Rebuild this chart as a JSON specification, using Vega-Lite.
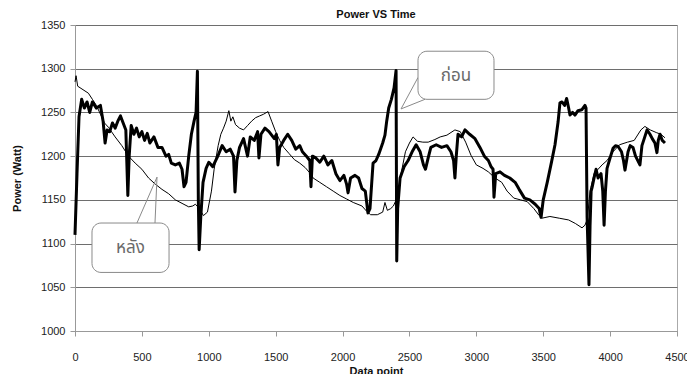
{
  "$schema": "https://vega.github.io/schema/vega-lite/v6.json",
  "width": 602,
  "height": 306,
  "autosize": {"type": "none"},
  "padding": {"left": 75, "top": 25, "right": 10, "bottom": 43},
  "background": "white",
  "title": {"text": "Power VS Time", "fontSize": 11, "fontWeight": "bold", "font": "Liberation Sans", "color": "#111", "offset": 6, "dy": 7, "anchor": "middle"},
  "config": {
    "view": {"stroke": "#aaa", "strokeWidth": 1},
    "axis": {"labelFont": "Liberation Sans", "titleFont": "Liberation Sans", "labelFontSize": 11, "titleFontSize": 11, "titleFontWeight": "bold", "labelColor": "#222", "titleColor": "#111", "domainColor": "#999", "tickColor": "#999", "tickSize": 5}
  },
  "datasets": {
    "series": [
      {"point": 0, "power": 1110, "series": "before"},
      {"point": 15, "power": 1180, "series": "before"},
      {"point": 30, "power": 1245, "series": "before"},
      {"point": 50, "power": 1265, "series": "before"},
      {"point": 70, "power": 1255, "series": "before"},
      {"point": 90, "power": 1262, "series": "before"},
      {"point": 110, "power": 1250, "series": "before"},
      {"point": 130, "power": 1262, "series": "before"},
      {"point": 160, "power": 1255, "series": "before"},
      {"point": 190, "power": 1258, "series": "before"},
      {"point": 210, "power": 1240, "series": "before"},
      {"point": 225, "power": 1215, "series": "before"},
      {"point": 240, "power": 1230, "series": "before"},
      {"point": 260, "power": 1228, "series": "before"},
      {"point": 280, "power": 1238, "series": "before"},
      {"point": 300, "power": 1232, "series": "before"},
      {"point": 320, "power": 1240, "series": "before"},
      {"point": 340, "power": 1246, "series": "before"},
      {"point": 360, "power": 1238, "series": "before"},
      {"point": 380, "power": 1230, "series": "before"},
      {"point": 395, "power": 1155, "series": "before"},
      {"point": 405, "power": 1200, "series": "before"},
      {"point": 420, "power": 1235, "series": "before"},
      {"point": 440, "power": 1225, "series": "before"},
      {"point": 460, "power": 1232, "series": "before"},
      {"point": 480, "power": 1222, "series": "before"},
      {"point": 500, "power": 1228, "series": "before"},
      {"point": 520, "power": 1218, "series": "before"},
      {"point": 540, "power": 1226, "series": "before"},
      {"point": 560, "power": 1215, "series": "before"},
      {"point": 590, "power": 1222, "series": "before"},
      {"point": 620, "power": 1210, "series": "before"},
      {"point": 650, "power": 1210, "series": "before"},
      {"point": 680, "power": 1200, "series": "before"},
      {"point": 700, "power": 1202, "series": "before"},
      {"point": 720, "power": 1192, "series": "before"},
      {"point": 750, "power": 1190, "series": "before"},
      {"point": 780, "power": 1192, "series": "before"},
      {"point": 800, "power": 1185, "series": "before"},
      {"point": 815, "power": 1165, "series": "before"},
      {"point": 830, "power": 1170, "series": "before"},
      {"point": 850, "power": 1200, "series": "before"},
      {"point": 870, "power": 1225, "series": "before"},
      {"point": 890, "power": 1240, "series": "before"},
      {"point": 905, "power": 1250, "series": "before"},
      {"point": 915, "power": 1297, "series": "before"},
      {"point": 922, "power": 1150, "series": "before"},
      {"point": 928, "power": 1093, "series": "before"},
      {"point": 940, "power": 1130, "series": "before"},
      {"point": 957, "power": 1170, "series": "before"},
      {"point": 980, "power": 1186, "series": "before"},
      {"point": 1000, "power": 1193, "series": "before"},
      {"point": 1030, "power": 1188, "series": "before"},
      {"point": 1070, "power": 1201, "series": "before"},
      {"point": 1100, "power": 1212, "series": "before"},
      {"point": 1130, "power": 1205, "series": "before"},
      {"point": 1160, "power": 1208, "series": "before"},
      {"point": 1185, "power": 1200, "series": "before"},
      {"point": 1196, "power": 1159, "series": "before"},
      {"point": 1210, "power": 1195, "series": "before"},
      {"point": 1230, "power": 1210, "series": "before"},
      {"point": 1260, "power": 1220, "series": "before"},
      {"point": 1290, "power": 1200, "series": "before"},
      {"point": 1310, "power": 1222, "series": "before"},
      {"point": 1340, "power": 1218, "series": "before"},
      {"point": 1365, "power": 1228, "series": "before"},
      {"point": 1375, "power": 1198, "series": "before"},
      {"point": 1390, "power": 1225, "series": "before"},
      {"point": 1420, "power": 1232, "series": "before"},
      {"point": 1450, "power": 1228, "series": "before"},
      {"point": 1470, "power": 1224, "series": "before"},
      {"point": 1490, "power": 1220, "series": "before"},
      {"point": 1505, "power": 1225, "series": "before"},
      {"point": 1517, "power": 1190, "series": "before"},
      {"point": 1530, "power": 1210, "series": "before"},
      {"point": 1560, "power": 1218, "series": "before"},
      {"point": 1590, "power": 1225, "series": "before"},
      {"point": 1620, "power": 1218, "series": "before"},
      {"point": 1650, "power": 1208, "series": "before"},
      {"point": 1680, "power": 1212, "series": "before"},
      {"point": 1700, "power": 1205, "series": "before"},
      {"point": 1730, "power": 1200, "series": "before"},
      {"point": 1755, "power": 1195, "series": "before"},
      {"point": 1764, "power": 1165, "series": "before"},
      {"point": 1775, "power": 1200, "series": "before"},
      {"point": 1800, "power": 1198, "series": "before"},
      {"point": 1830, "power": 1193, "series": "before"},
      {"point": 1860, "power": 1200, "series": "before"},
      {"point": 1890, "power": 1190, "series": "before"},
      {"point": 1920, "power": 1195, "series": "before"},
      {"point": 1950, "power": 1180, "series": "before"},
      {"point": 1980, "power": 1172, "series": "before"},
      {"point": 2010, "power": 1178, "series": "before"},
      {"point": 2030, "power": 1168, "series": "before"},
      {"point": 2041, "power": 1158, "series": "before"},
      {"point": 2060, "power": 1175, "series": "before"},
      {"point": 2093, "power": 1178, "series": "before"},
      {"point": 2120, "power": 1175, "series": "before"},
      {"point": 2145, "power": 1163, "series": "before"},
      {"point": 2170, "power": 1160, "series": "before"},
      {"point": 2190, "power": 1135, "series": "before"},
      {"point": 2205, "power": 1140, "series": "before"},
      {"point": 2228, "power": 1192, "series": "before"},
      {"point": 2250, "power": 1195, "series": "before"},
      {"point": 2270, "power": 1202, "series": "before"},
      {"point": 2300, "power": 1215, "series": "before"},
      {"point": 2317, "power": 1224, "series": "before"},
      {"point": 2330, "power": 1240, "series": "before"},
      {"point": 2345, "power": 1255, "series": "before"},
      {"point": 2365, "power": 1265, "series": "before"},
      {"point": 2385, "power": 1278, "series": "before"},
      {"point": 2400, "power": 1298, "series": "before"},
      {"point": 2405, "power": 1080, "series": "before"},
      {"point": 2412, "power": 1140, "series": "before"},
      {"point": 2430, "power": 1175, "series": "before"},
      {"point": 2460, "power": 1188, "series": "before"},
      {"point": 2490, "power": 1195, "series": "before"},
      {"point": 2520, "power": 1205, "series": "before"},
      {"point": 2550, "power": 1213, "series": "before"},
      {"point": 2580, "power": 1205, "series": "before"},
      {"point": 2605, "power": 1190, "series": "before"},
      {"point": 2620, "power": 1185, "series": "before"},
      {"point": 2640, "power": 1198, "series": "before"},
      {"point": 2660, "power": 1210, "series": "before"},
      {"point": 2700, "power": 1213, "series": "before"},
      {"point": 2740, "power": 1210, "series": "before"},
      {"point": 2780, "power": 1212, "series": "before"},
      {"point": 2810, "power": 1205, "series": "before"},
      {"point": 2830, "power": 1195, "series": "before"},
      {"point": 2840, "power": 1175, "series": "before"},
      {"point": 2850, "power": 1200, "series": "before"},
      {"point": 2863, "power": 1225, "series": "before"},
      {"point": 2890, "power": 1222, "series": "before"},
      {"point": 2915, "power": 1230, "series": "before"},
      {"point": 2950, "power": 1225, "series": "before"},
      {"point": 2990, "power": 1220, "series": "before"},
      {"point": 3027, "power": 1210, "series": "before"},
      {"point": 3060, "power": 1200, "series": "before"},
      {"point": 3090, "power": 1195, "series": "before"},
      {"point": 3110, "power": 1188, "series": "before"},
      {"point": 3125, "power": 1185, "series": "before"},
      {"point": 3132, "power": 1153, "series": "before"},
      {"point": 3145, "power": 1180, "series": "before"},
      {"point": 3177, "power": 1182, "series": "before"},
      {"point": 3210, "power": 1178, "series": "before"},
      {"point": 3250, "power": 1175, "series": "before"},
      {"point": 3290, "power": 1170, "series": "before"},
      {"point": 3320, "power": 1162, "series": "before"},
      {"point": 3360, "power": 1152, "series": "before"},
      {"point": 3400, "power": 1150, "series": "before"},
      {"point": 3440, "power": 1145, "series": "before"},
      {"point": 3470, "power": 1140, "series": "before"},
      {"point": 3484, "power": 1130, "series": "before"},
      {"point": 3500, "power": 1150, "series": "before"},
      {"point": 3530, "power": 1170, "series": "before"},
      {"point": 3563, "power": 1194, "series": "before"},
      {"point": 3588, "power": 1213, "series": "before"},
      {"point": 3611, "power": 1239, "series": "before"},
      {"point": 3625, "power": 1261, "series": "before"},
      {"point": 3640, "power": 1262, "series": "before"},
      {"point": 3660, "power": 1258, "series": "before"},
      {"point": 3675, "power": 1266, "series": "before"},
      {"point": 3690, "power": 1255, "series": "before"},
      {"point": 3700, "power": 1247, "series": "before"},
      {"point": 3720, "power": 1250, "series": "before"},
      {"point": 3737, "power": 1247, "series": "before"},
      {"point": 3760, "power": 1252, "series": "before"},
      {"point": 3788, "power": 1253, "series": "before"},
      {"point": 3812, "power": 1258, "series": "before"},
      {"point": 3820, "power": 1255, "series": "before"},
      {"point": 3828, "power": 1130, "series": "before"},
      {"point": 3842, "power": 1053, "series": "before"},
      {"point": 3850, "power": 1120, "series": "before"},
      {"point": 3858, "power": 1160, "series": "before"},
      {"point": 3865, "power": 1164, "series": "before"},
      {"point": 3880, "power": 1175, "series": "before"},
      {"point": 3895, "power": 1185, "series": "before"},
      {"point": 3910, "power": 1175, "series": "before"},
      {"point": 3932, "power": 1180, "series": "before"},
      {"point": 3945, "power": 1160, "series": "before"},
      {"point": 3955, "power": 1121, "series": "before"},
      {"point": 3965, "power": 1160, "series": "before"},
      {"point": 3977, "power": 1186, "series": "before"},
      {"point": 4000, "power": 1198, "series": "before"},
      {"point": 4022, "power": 1209, "series": "before"},
      {"point": 4040, "power": 1212, "series": "before"},
      {"point": 4060, "power": 1211, "series": "before"},
      {"point": 4085, "power": 1205, "series": "before"},
      {"point": 4100, "power": 1195, "series": "before"},
      {"point": 4111, "power": 1184, "series": "before"},
      {"point": 4134, "power": 1205, "series": "before"},
      {"point": 4150, "power": 1212, "series": "before"},
      {"point": 4171, "power": 1210, "series": "before"},
      {"point": 4190, "power": 1200, "series": "before"},
      {"point": 4223, "power": 1190, "series": "before"},
      {"point": 4238, "power": 1212, "series": "before"},
      {"point": 4255, "power": 1220, "series": "before"},
      {"point": 4276, "power": 1230, "series": "before"},
      {"point": 4298, "power": 1225, "series": "before"},
      {"point": 4315, "power": 1220, "series": "before"},
      {"point": 4335, "power": 1215, "series": "before"},
      {"point": 4350, "power": 1204, "series": "before"},
      {"point": 4360, "power": 1218, "series": "before"},
      {"point": 4373, "power": 1225, "series": "before"},
      {"point": 4390, "power": 1218, "series": "before"},
      {"point": 4410, "power": 1215, "series": "before"},
      {"point": 0, "power": 1285, "series": "after"},
      {"point": 8, "power": 1292, "series": "after"},
      {"point": 20, "power": 1280, "series": "after"},
      {"point": 60, "power": 1276, "series": "after"},
      {"point": 100, "power": 1272, "series": "after"},
      {"point": 130, "power": 1265, "series": "after"},
      {"point": 160, "power": 1258, "series": "after"},
      {"point": 190, "power": 1248, "series": "after"},
      {"point": 220, "power": 1238, "series": "after"},
      {"point": 250, "power": 1233, "series": "after"},
      {"point": 300, "power": 1222, "series": "after"},
      {"point": 350, "power": 1212, "series": "after"},
      {"point": 400, "power": 1200, "series": "after"},
      {"point": 450, "power": 1192, "series": "after"},
      {"point": 500, "power": 1185, "series": "after"},
      {"point": 550, "power": 1175, "series": "after"},
      {"point": 600, "power": 1168, "series": "after"},
      {"point": 650, "power": 1162, "series": "after"},
      {"point": 700, "power": 1157, "series": "after"},
      {"point": 750, "power": 1150, "series": "after"},
      {"point": 800, "power": 1146, "series": "after"},
      {"point": 850, "power": 1142, "series": "after"},
      {"point": 880, "power": 1143, "series": "after"},
      {"point": 900, "power": 1145, "series": "after"},
      {"point": 930, "power": 1140, "series": "after"},
      {"point": 960, "power": 1132, "series": "after"},
      {"point": 990, "power": 1136, "series": "after"},
      {"point": 1020, "power": 1160, "series": "after"},
      {"point": 1040, "power": 1185, "series": "after"},
      {"point": 1070, "power": 1212, "series": "after"},
      {"point": 1090, "power": 1225, "series": "after"},
      {"point": 1110, "power": 1232, "series": "after"},
      {"point": 1130, "power": 1240, "series": "after"},
      {"point": 1150, "power": 1252, "series": "after"},
      {"point": 1165, "power": 1240, "series": "after"},
      {"point": 1180, "power": 1245, "series": "after"},
      {"point": 1200, "power": 1236, "series": "after"},
      {"point": 1230, "power": 1232, "series": "after"},
      {"point": 1260, "power": 1230, "series": "after"},
      {"point": 1290, "power": 1235, "series": "after"},
      {"point": 1320, "power": 1240, "series": "after"},
      {"point": 1350, "power": 1244, "series": "after"},
      {"point": 1380, "power": 1246, "series": "after"},
      {"point": 1410, "power": 1248, "series": "after"},
      {"point": 1443, "power": 1251, "series": "after"},
      {"point": 1470, "power": 1240, "series": "after"},
      {"point": 1500, "power": 1228, "series": "after"},
      {"point": 1530, "power": 1218, "series": "after"},
      {"point": 1560, "power": 1210, "series": "after"},
      {"point": 1600, "power": 1203, "series": "after"},
      {"point": 1640, "power": 1196, "series": "after"},
      {"point": 1680, "power": 1192, "series": "after"},
      {"point": 1720, "power": 1187, "series": "after"},
      {"point": 1760, "power": 1180, "series": "after"},
      {"point": 1780, "power": 1175, "series": "after"},
      {"point": 1830, "power": 1170, "series": "after"},
      {"point": 1880, "power": 1165, "series": "after"},
      {"point": 1930, "power": 1160, "series": "after"},
      {"point": 1980, "power": 1155, "series": "after"},
      {"point": 2030, "power": 1151, "series": "after"},
      {"point": 2080, "power": 1147, "series": "after"},
      {"point": 2145, "power": 1143, "series": "after"},
      {"point": 2180, "power": 1137, "series": "after"},
      {"point": 2210, "power": 1133, "series": "after"},
      {"point": 2260, "power": 1133, "series": "after"},
      {"point": 2300, "power": 1136, "series": "after"},
      {"point": 2317, "power": 1147, "series": "after"},
      {"point": 2335, "power": 1138, "series": "after"},
      {"point": 2360, "power": 1140, "series": "after"},
      {"point": 2380, "power": 1143, "series": "after"},
      {"point": 2395, "power": 1148, "series": "after"},
      {"point": 2420, "power": 1160, "series": "after"},
      {"point": 2440, "power": 1182, "series": "after"},
      {"point": 2470, "power": 1205, "series": "after"},
      {"point": 2500, "power": 1215, "series": "after"},
      {"point": 2527, "power": 1222, "series": "after"},
      {"point": 2560, "power": 1217, "series": "after"},
      {"point": 2600, "power": 1216, "series": "after"},
      {"point": 2640, "power": 1216, "series": "after"},
      {"point": 2690, "power": 1219, "series": "after"},
      {"point": 2730, "power": 1222, "series": "after"},
      {"point": 2780, "power": 1224, "series": "after"},
      {"point": 2840, "power": 1230, "series": "after"},
      {"point": 2880, "power": 1228, "series": "after"},
      {"point": 2920, "power": 1216, "series": "after"},
      {"point": 2960, "power": 1201, "series": "after"},
      {"point": 3000, "power": 1190, "series": "after"},
      {"point": 3050, "power": 1186, "series": "after"},
      {"point": 3090, "power": 1182, "series": "after"},
      {"point": 3140, "power": 1175, "series": "after"},
      {"point": 3190, "power": 1170, "series": "after"},
      {"point": 3230, "power": 1160, "series": "after"},
      {"point": 3280, "power": 1152, "series": "after"},
      {"point": 3330, "power": 1150, "series": "after"},
      {"point": 3380, "power": 1148, "series": "after"},
      {"point": 3430, "power": 1140, "series": "after"},
      {"point": 3470, "power": 1132, "series": "after"},
      {"point": 3490, "power": 1129, "series": "after"},
      {"point": 3550, "power": 1131, "series": "after"},
      {"point": 3620, "power": 1129, "series": "after"},
      {"point": 3690, "power": 1127, "series": "after"},
      {"point": 3740, "power": 1123, "series": "after"},
      {"point": 3790, "power": 1118, "series": "after"},
      {"point": 3812, "power": 1121, "series": "after"},
      {"point": 3830, "power": 1128, "series": "after"},
      {"point": 3850, "power": 1160, "series": "after"},
      {"point": 3880, "power": 1180, "series": "after"},
      {"point": 3910, "power": 1185, "series": "after"},
      {"point": 3940, "power": 1190, "series": "after"},
      {"point": 3977, "power": 1195, "series": "after"},
      {"point": 4022, "power": 1205, "series": "after"},
      {"point": 4070, "power": 1213, "series": "after"},
      {"point": 4130, "power": 1216, "series": "after"},
      {"point": 4180, "power": 1218, "series": "after"},
      {"point": 4230, "power": 1230, "series": "after"},
      {"point": 4260, "power": 1234, "series": "after"},
      {"point": 4300, "power": 1230, "series": "after"},
      {"point": 4345, "power": 1227, "series": "after"},
      {"point": 4380, "power": 1225, "series": "after"},
      {"point": 4410, "power": 1221, "series": "after"}
    ],
    "boxes": [
      {"x1": 2564, "x2": 3132, "y1": 1265, "y2": 1320, "label": "ก่อน", "tx": 2848, "ty": 1292},
      {"x1": 127, "x2": 703, "y1": 1067, "y2": 1123.5, "label": "หลัง", "tx": 415, "ty": 1095}
    ],
    "tails": [
      {"box": "a", "ord": 1, "x": 2564, "y": 1290},
      {"box": "a", "ord": 2, "x": 2437, "y": 1254},
      {"box": "a", "ord": 3, "x": 2616, "y": 1265},
      {"box": "b", "ord": 1, "x": 463, "y": 1123.5},
      {"box": "b", "ord": 2, "x": 613, "y": 1176},
      {"box": "b", "ord": 3, "x": 598, "y": 1123.5}
    ]
  },
  "layer": [
    {
      "data": {"name": "series"},
      "mark": {"type": "line", "color": "black", "strokeJoin": "round"},
      "encoding": {
        "x": {"field": "point", "type": "quantitative", "scale": {"domain": [0, 4500], "nice": false, "zero": false},
              "axis": {"title": "Data point", "format": "d", "values": [0, 500, 1000, 1500, 2000, 2500, 3000, 3500, 4000, 4500], "grid": false, "labelPadding": 15, "titlePadding": 3, "labelFlush": false}},
        "y": {"field": "power", "type": "quantitative", "scale": {"domain": [1000, 1350], "nice": false, "zero": false},
              "axis": {"title": "Power (Watt)", "format": "d", "values": [1000, 1050, 1100, 1150, 1200, 1250, 1300, 1350], "grid": true, "gridColor": "#6e6e6e", "gridWidth": 1, "labelPadding": 5, "titlePadding": 18}},
        "strokeWidth": {"field": "series", "type": "nominal", "scale": {"domain": ["before", "after"], "range": [3, 1]}, "legend": null},
        "order": {"field": "point", "type": "quantitative"}
      }
    },
    {
      "data": {"name": "tails"},
      "mark": {"type": "line", "color": "#8a8a8a", "strokeWidth": 1},
      "encoding": {
        "x": {"field": "x", "type": "quantitative"},
        "y": {"field": "y", "type": "quantitative"},
        "detail": {"field": "box", "type": "nominal"},
        "order": {"field": "ord", "type": "quantitative"}
      }
    },
    {
      "data": {"name": "boxes"},
      "mark": {"type": "rect", "fill": "white", "stroke": "#8a8a8a", "strokeWidth": 1, "cornerRadius": 9},
      "encoding": {
        "x": {"field": "x1", "type": "quantitative"},
        "x2": {"field": "x2"},
        "y": {"field": "y1", "type": "quantitative"},
        "y2": {"field": "y2"}
      }
    },
    {
      "data": {"name": "boxes"},
      "mark": {"type": "text", "color": "#6a6a6a", "fontSize": 17, "font": "Noto Sans Thai, Noto Sans, sans-serif", "align": "center", "baseline": "middle"},
      "encoding": {
        "x": {"field": "tx", "type": "quantitative"},
        "y": {"field": "ty", "type": "quantitative"},
        "text": {"field": "label"}
      }
    }
  ]
}
